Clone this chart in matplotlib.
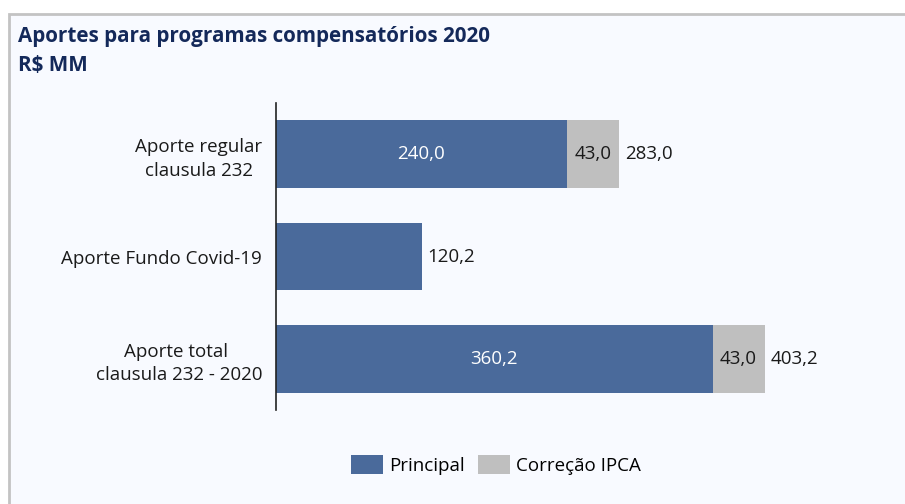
import matplotlib.pyplot as plt
from matplotlib.patches import Rectangle, Patch

# data (R$ MM)
categories = ["Aporte regular\nclausula 232", "Aporte Fundo Covid-19", "Aporte total \nclausula 232 - 2020"]
principal = [240.0, 120.2, 360.2]
correcao = [43.0, 0.0, 43.0]

blue = "#4a6a9b"
grey = "#bfbfbf"
bg = "#f8faff"
font = "Open Sans"
fs = 13.5

def fmt(v):
    return f"{v:.1f}".replace(".", ",")

fig = plt.figure(figsize=(9.05, 5.04), dpi=100)
fig.patch.set_facecolor("white")

# panel background with the grey frame on top and left
fig.patches.append(Rectangle((9 / 905, -0.1), 1.2, 1 - 14 / 504 + 0.1, transform=fig.transFigure,
                             facecolor=bg, edgecolor="#c3c3c3", linewidth=2, zorder=-5))

ax = fig.add_axes([276 / 905, 1 - 410 / 504, 606 / 905, 307 / 504])
ax.set_facecolor("none")
ax.set_zorder(2)

y = list(range(len(categories)))
ax.barh(y, principal, height=0.66, color=blue, label="Principal")
ax.barh(y, correcao, left=principal, height=0.66, color=grey, label="Correção IPCA")

ax.set_xlim(0, 500)
ax.set_ylim(2.5, -0.5)

for i in y:
    p, c = principal[i], correcao[i]
    total = p + c
    if c > 0:
        ax.text(p / 2, i, fmt(p), ha="center", va="center", color="white", fontsize=fs, family=font)
        ax.text(p + c / 2, i, fmt(c), ha="center", va="center", color="#1a1a1a", fontsize=fs, family=font)
    ax.text(total + 5, i, fmt(total), ha="left", va="center", color="#1a1a1a", fontsize=fs, family=font)

ax.set_yticks(y)
ax.set_yticklabels(categories, fontsize=fs, family=font, color="#1a1a1a", multialignment="center",
                   linespacing=1.4)
ax.tick_params(axis="y", length=0, pad=10)
ax.set_xticks([])
for s in ["top", "right", "bottom"]:
    ax.spines[s].set_visible(False)
ax.spines["left"].set_color("#222222")
ax.spines["left"].set_linewidth(1.2)

fig.text(18 / 905, 1 - 51 / 504, "Aportes para programas compensatórios 2020\nR$ MM",
         ha="left", va="center", fontsize=14.9, fontweight="bold", color="#14295a",
         family=font, linespacing=1.45)

handles = [Patch(facecolor=blue), Patch(facecolor=grey)]
fig.legend(handles, ["Principal", "Correção IPCA"], loc="center", bbox_to_anchor=(496 / 905, 1 - 465 / 504),
           ncol=2, frameon=False, prop={"family": font, "size": fs}, handlelength=1.7, handleheight=1.2,
           columnspacing=0.7, handletextpad=0.35)

fig.savefig("out.png", dpi=100, facecolor=fig.get_facecolor())
